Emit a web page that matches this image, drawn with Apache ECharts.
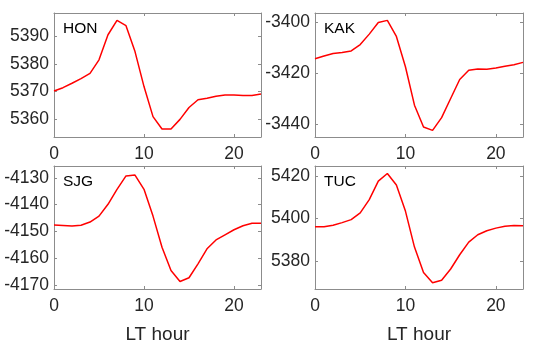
<!DOCTYPE html>
<html>
<head>
<meta charset="utf-8">
<script src="https://cdn.jsdelivr.net/npm/echarts@6/dist/echarts.min.js"></script>
<style>
  html, body { margin: 0; padding: 0; background: #fff; }
  #main { width: 548px; height: 345px; }
</style>
</head>
<body>
<div id="main"></div>
<script>
// LT hours 0..23
var hours = [0, 1, 2, 3, 4, 5, 6, 7, 8, 9, 10, 11, 12, 13, 14, 15, 16, 17, 18, 19, 20, 21, 22, 23];
var stations = ["HON", "KAK", "SJG", "TUC"];

var honValues = [5370.2, 5371.4, 5373.0, 5374.7, 5376.6, 5381.5, 5390.6, 5395.8, 5393.9, 5384.5, 5371.8, 5360.9,
  5356.4, 5356.4, 5359.9, 5364.2, 5367.0, 5367.6, 5368.3, 5368.7, 5368.7, 5368.6, 5368.6, 5369.1];
var kakValues = [-3414.3, -3413.2, -3412.2, -3411.8, -3411.2, -3408.7, -3404.6, -3400.0, -3399.2, -3405.5, -3417.4, -3432.5,
  -3441.1, -3442.4, -3437.4, -3429.9, -3422.4, -3418.8, -3418.3, -3418.4, -3417.9, -3417.2, -3416.6, -3415.7];
var sjgValues = [-4147.6, -4147.8, -4148.0, -4147.7, -4146.5, -4144.3, -4139.9, -4134.3, -4129.3, -4129.0, -4134.3, -4144.3,
  -4155.9, -4164.6, -4168.7, -4167.3, -4162.1, -4156.5, -4153.2, -4151.3, -4149.4, -4147.9, -4147.0, -4147.0];
var tucValues = [5396.0, 5396.0, 5396.8, 5398.0, 5399.4, 5402.6, 5408.8, 5417.5, 5421.1, 5415.7, 5403.4, 5386.5,
  5374.5, 5369.7, 5370.9, 5376.2, 5382.9, 5388.8, 5392.3, 5394.2, 5395.4, 5396.3, 5396.6, 5396.5];

// tick labels
var xTicks = [0, 10, 20];
var honTicks = [5360, 5370, 5380, 5390];
var kakTicks = [-3440, -3420, -3400];
var sjgTicks = [-4170, -4160, -4150, -4140, -4130];
var tucTicks = [5380, 5400, 5420];

var values = [honValues, kakValues, sjgValues, tucValues];
var yTicks = [honTicks, kakTicks, sjgTicks, tucTicks];
var yRange = [[5353.5, 5398.5], [-3445, -3396.3], [-4171.5, -4125.6], [5366.8, 5424.6]];

var boxColor = "#8c8c8c";
var textColor = "#262626";
var font = "Liberation Sans";

var grids = [
  { left: 54, top: 13, width: 207, height: 124 },
  { left: 315, top: 13, width: 208, height: 124 },
  { left: 54, top: 166, width: 207, height: 125 },
  { left: 315, top: 166, width: 208, height: 125 }
];

function plain(v) { return String(v); }

var xAxes = [], yAxes = [], series = [], titles = [];
grids.forEach(function (g, i) {
  var bottomRow = i >= 2;
  // bottom x axis with labels
  xAxes.push({
    gridIndex: i, type: "value", min: 0, max: 23, position: "bottom",
    axisLine: { onZero: false, lineStyle: { color: boxColor, width: 1 } },
    axisTick: { inside: true, length: 3, customValues: xTicks, lineStyle: { color: boxColor } },
    axisLabel: { customValues: xTicks, formatter: plain, color: textColor, fontSize: 17.5, fontFamily: font, margin: 8 },
    splitLine: { show: false },
    name: bottomRow ? "LT hour" : "",
    nameLocation: "middle", nameGap: 36,
    nameTextStyle: { color: textColor, fontSize: 19, fontFamily: font }
  });
  // top x axis, box only
  xAxes.push({
    gridIndex: i, type: "value", min: 0, max: 23, position: "top",
    axisLine: { onZero: false, lineStyle: { color: boxColor, width: 1 } },
    axisTick: { inside: true, length: 3, customValues: xTicks, lineStyle: { color: boxColor } },
    axisLabel: { show: false },
    splitLine: { show: false }
  });
  yAxes.push({
    gridIndex: i, type: "value", min: yRange[i][0], max: yRange[i][1], position: "left",
    axisLine: { show: true, onZero: false, lineStyle: { color: boxColor, width: 1 } },
    axisTick: { show: true, inside: true, length: 3, customValues: yTicks[i], lineStyle: { color: boxColor } },
    axisLabel: { customValues: yTicks[i], formatter: plain, color: textColor, fontSize: 17.5, fontFamily: font, margin: 5 },
    splitLine: { show: false }
  });
  yAxes.push({
    gridIndex: i, type: "value", min: yRange[i][0], max: yRange[i][1], position: "right",
    axisLine: { show: true, onZero: false, lineStyle: { color: boxColor, width: 1 } },
    axisTick: { show: true, inside: true, length: 3, customValues: yTicks[i], lineStyle: { color: boxColor } },
    axisLabel: { show: false },
    splitLine: { show: false }
  });
  series.push({
    type: "line",
    xAxisIndex: i * 2,
    yAxisIndex: i * 2,
    data: hours.map(function (h, k) { return [h, values[i][k]]; }),
    showSymbol: false,
    lineStyle: { color: "#ff0000", width: 1.5 },
    animation: false
  });
  titles.push({
    text: stations[i],
    left: g.left + 4,
    top: g.top + 3,
    textStyle: { color: "#000", fontSize: 15.5, fontWeight: "normal", fontFamily: font }
  });
});

var myChart = echarts.init(document.getElementById("main"));
myChart.setOption({
  backgroundColor: "#fff",
  animation: false,
  title: titles,
  grid: grids,
  xAxis: xAxes,
  yAxis: yAxes,
  series: series
});
</script>
</body>
</html>
